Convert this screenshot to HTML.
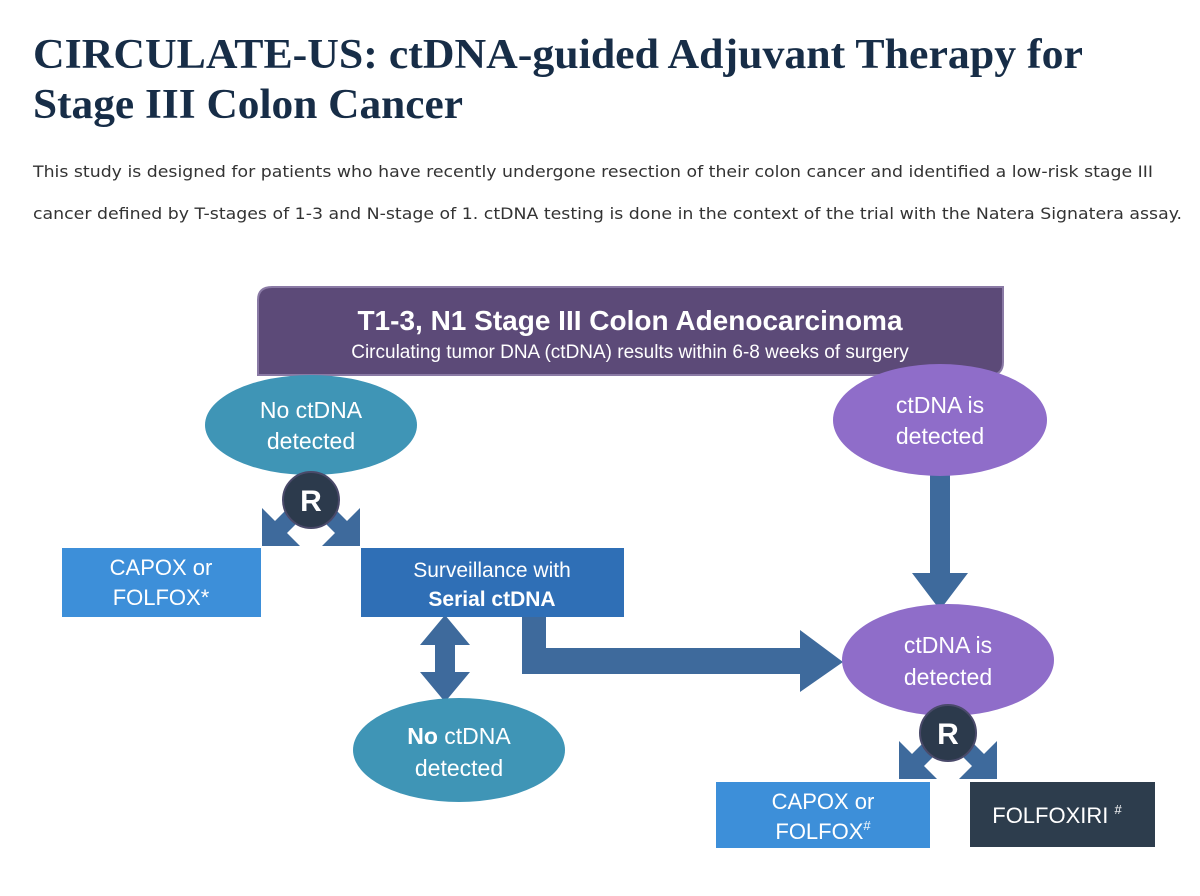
<!DOCTYPE html>
<html><head><meta charset="utf-8"><style>
html,body{margin:0;padding:0;background:#fff;width:1200px;height:896px;overflow:hidden}
svg{display:block}
</style></head><body>
<svg width="1200" height="896" viewBox="0 0 1200 896" xmlns="http://www.w3.org/2000/svg" font-family="Liberation Sans, Arial, sans-serif">
<g fill="#172d47" font-family="Liberation Serif, serif" font-weight="bold" font-size="42">
<text x="33" y="68" textLength="1050" lengthAdjust="spacingAndGlyphs">CIRCULATE-US:  ctDNA-guided Adjuvant Therapy for</text>
<text x="33" y="118" textLength="430" lengthAdjust="spacingAndGlyphs">Stage III Colon Cancer</text>
</g>
<g fill="#333" font-family="DejaVu Sans, sans-serif" font-size="16">
<text x="33" y="177" textLength="1120" lengthAdjust="spacingAndGlyphs">This study is designed for patients who have recently undergone resection of their colon cancer and identified a low-risk stage III</text>
<text x="33" y="219" textLength="1149" lengthAdjust="spacingAndGlyphs">cancer defined by T-stages of 1-3 and N-stage of 1.  ctDNA testing is done in the context of the trial with the Natera Signatera assay.</text>
</g>
<path d="M272 287 H1003 V362 Q1003 375 990 375 H258 V300 Q258 287 272 287Z" fill="#5c4a78" stroke="#8a7aa5" stroke-width="2"/>
<text x="630" y="330" fill="#fff" font-weight="bold" font-size="28" text-anchor="middle">T1-3, N1 Stage III Colon Adenocarcinoma</text>
<text x="630" y="358" fill="#fff" font-size="19" text-anchor="middle">Circulating tumor DNA (ctDNA) results within 6-8 weeks of surgery</text>
<g fill="#3e6a9c">
<polygon points="262,508 275,521 295,501 307,513 287,533 300,546 262,546"/>
<polygon points="360,508 347,521 327,501 315,513 335,533 322,546 360,546"/>
<polygon points="899,741 912,754 932,734 944,746 924,766 937,779 899,779"/>
<polygon points="997,741 984,754 964,734 952,746 972,766 959,779 997,779"/>
<polygon points="930,468 950,468 950,573 968,573 940,610 912,573 930,573"/>
<polygon points="445,615 470,645 455,645 455,672 470,672 445,702 420,672 435,672 435,645 420,645"/>
<polygon points="522,617 546,617 546,648 800,648 800,630 843,662 800,692 800,674 522,674"/>
</g>
<ellipse cx="311" cy="425" rx="106" ry="50" fill="#3f95b6"/>
<text x="311" y="418" fill="#fff" font-size="23" text-anchor="middle">No ctDNA</text>
<text x="311" y="449" fill="#fff" font-size="23" text-anchor="middle">detected</text>
<ellipse cx="940" cy="420" rx="107" ry="56" fill="#8f6dc9"/>
<text x="940" y="413" fill="#fff" font-size="23" text-anchor="middle">ctDNA is</text>
<text x="940" y="444" fill="#fff" font-size="23" text-anchor="middle">detected</text>
<ellipse cx="459" cy="750" rx="106" ry="52" fill="#3f95b6"/>
<text x="459" y="744" fill="#fff" font-size="23" text-anchor="middle"><tspan font-weight="bold">No</tspan> ctDNA</text>
<text x="459" y="776" fill="#fff" font-size="23" text-anchor="middle">detected</text>
<ellipse cx="948" cy="660" rx="106" ry="56" fill="#8f6dc9"/>
<text x="948" y="653" fill="#fff" font-size="23" text-anchor="middle">ctDNA is</text>
<text x="948" y="685" fill="#fff" font-size="23" text-anchor="middle">detected</text>
<circle cx="311" cy="500" r="28" fill="#2c3a4c" stroke="#4a4a6a" stroke-width="2"/>
<text x="311" y="511" fill="#fff" font-weight="bold" font-size="30" text-anchor="middle">R</text>
<circle cx="948" cy="733" r="28" fill="#2c3a4c" stroke="#4a4a6a" stroke-width="2"/>
<text x="948" y="744" fill="#fff" font-weight="bold" font-size="30" text-anchor="middle">R</text>
<rect x="62" y="548" width="199" height="69" fill="#3d8fd9"/>
<text x="161" y="575" fill="#fff" font-size="22" text-anchor="middle">CAPOX or</text>
<text x="161" y="605" fill="#fff" font-size="22" text-anchor="middle">FOLFOX*</text>
<rect x="361" y="548" width="263" height="69" fill="#2f6fb6"/>
<text x="492" y="577" fill="#fff" font-size="21" text-anchor="middle">Surveillance with</text>
<text x="492" y="606" fill="#fff" font-size="21" font-weight="bold" text-anchor="middle">Serial ctDNA</text>
<rect x="716" y="782" width="214" height="66" fill="#3d8fd9"/>
<text x="823" y="809" fill="#fff" font-size="22" text-anchor="middle">CAPOX or</text>
<text x="823" y="839" fill="#fff" font-size="22" text-anchor="middle">FOLFOX<tspan font-size="13" dy="-9">#</tspan></text>
<rect x="970" y="782" width="185" height="65" fill="#2d3d4d"/>
<text x="1057" y="823" fill="#fff" font-size="22" text-anchor="middle">FOLFOXIRI <tspan font-size="13" dy="-9">#</tspan></text>
</svg>
</body></html>
